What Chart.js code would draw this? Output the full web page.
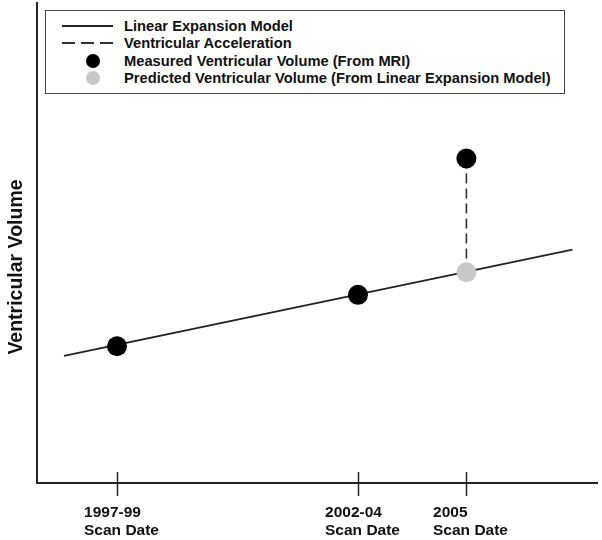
<!DOCTYPE html>
<html>
<head>
<meta charset="utf-8">
<script src="https://cdn.jsdelivr.net/npm/chart.js@4.4.1/dist/chart.umd.min.js"></script>
<style>
    body { margin: 0; background: #fff; }
    #wrap { position: relative; width: 602px; height: 540px; }
    #legend {
        position: absolute; left: 45px; top: 10px; width: 518px; height: 82px;
        border: 1.5px solid #444; background: #fff;
        font: bold 14.7px "Liberation Sans", Arial, sans-serif; color: #111;
    }
    .row { position: absolute; left: 0; width: 100%; height: 18px; }
    .txt { position: absolute; left: 78px; top: 0; line-height: 18px; white-space: nowrap; }
    .solid { position: absolute; left: 16px; top: 8px; width: 51px; height: 2px; background: #222; }
    .dash { position: absolute; left: 16px; top: 8px; width: 51px; height: 2px;
        background: repeating-linear-gradient(to right, #333 0 13px, transparent 13px 19px); }
    .dot { position: absolute; left: 40px; top: 2px; width: 14px; height: 14px; border-radius: 50%; }
</style>
</head>
<body>
<div id="wrap">
    <canvas id="chart" width="602" height="540"></canvas>
    <div id="legend">
        <div class="row" style="top:6px"><div class="solid"></div><div class="txt">Linear Expansion Model</div></div>
        <div class="row" style="top:23px"><div class="dash"></div><div class="txt">Ventricular Acceleration</div></div>
        <div class="row" style="top:41px"><div class="dot" style="background:#000"></div><div class="txt">Measured Ventricular Volume (From MRI)</div></div>
        <div class="row" style="top:58px"><div class="dot" style="background:#c8c8c8"></div><div class="txt">Predicted Ventricular Volume (From Linear Expansion Model)</div></div>
    </div>
</div>
<script>
"use strict";

// scan dates (x) and their tick labels
const scanYears = [1998, 2003, 2005.25];
const scanLabels = [['1997-99', 'Scan Date'], ['2002-04', 'Scan Date'], ['2005', 'Scan Date']];

// ventricular volume, arbitrary units (no y ticks in the figure)
const measuredVolume = [28.5, 39.2, 67.6];
const predictedYear = [2005.25];
const predictedVolume = [43.9];

// linear expansion model, end points of the fitted line
const modelYears = [1996.9, 2007.45];
const modelVolume = [26.5, 48.6];

const yTitle = 'Ventricular Volume';
const FONT = '"Liberation Sans", Arial, sans-serif';

const toPoints = (xs, ys) => xs.map((x, i) => ({x, y: ys[i]}));

const scanAxis = {
    id: 'scanAxis',
    afterDraw(chart) {
        const {ctx, chartArea, scales: {x}} = chart;
        ctx.save();
        ctx.strokeStyle = '#222';
        ctx.lineWidth = 1.5;
        ctx.fillStyle = '#111';
        ctx.font = 'bold 15.5px ' + FONT;
        ctx.textAlign = 'left';
        ctx.textBaseline = 'alphabetic';
        scanYears.forEach((yr, i) => {
            const px = Math.round(x.getPixelForValue(yr)) + 0.5;
            ctx.beginPath();
            ctx.moveTo(px, chartArea.bottom - 11);
            ctx.lineTo(px, chartArea.bottom + 13);
            ctx.stroke();
            const lines = scanLabels[i],
                w = Math.max(...lines.map(t => ctx.measureText(t).width)),
                left = px - w / 2 + 4;
            lines.forEach((t, j) => ctx.fillText(t, left, chartArea.bottom + 33.5 + j * 18.5));
        });

        // y title sits a bit below the middle of the axis
        ctx.translate(17, chartArea.top + (chartArea.bottom - chartArea.top) * 0.55);
        ctx.rotate(-Math.PI / 2);
        ctx.textAlign = 'center';
        ctx.textBaseline = 'middle';
        ctx.font = 'bold 19.5px ' + FONT;
        ctx.fillText(yTitle, 0, 0);
        ctx.restore();
    }
};

const axisBorder = {display: true, color: '#222', width: 2};

new Chart(document.getElementById('chart'), {
    type: 'scatter',
    data: {
        datasets: [
            {
                label: 'Measured Ventricular Volume (From MRI)',
                data: toPoints(scanYears, measuredVolume),
                pointRadius: 10, pointBackgroundColor: '#000', pointBorderWidth: 0,
                order: 0
            },
            {
                label: 'Predicted Ventricular Volume (From Linear Expansion Model)',
                data: toPoints(predictedYear, predictedVolume),
                pointRadius: 10, pointBackgroundColor: '#c8c8c8', pointBorderWidth: 0,
                order: 0
            },
            {
                label: 'Ventricular Acceleration',
                data: toPoints([scanYears[2], predictedYear[0]], [measuredVolume[2], predictedVolume[0]]),
                showLine: true, borderColor: '#333', borderWidth: 1.6, borderDash: [10, 5],
                pointRadius: 0, order: 1
            },
            {
                label: 'Linear Expansion Model',
                data: toPoints(modelYears, modelVolume),
                showLine: true, borderColor: '#222', borderWidth: 1.8,
                pointRadius: 0, order: 2
            }
        ]
    },
    options: {
        responsive: false,
        animation: false,
        layout: {autoPadding: false, padding: {left: 0, top: 3, right: 5, bottom: 0}},
        plugins: {legend: {display: false}, tooltip: {enabled: false}},
        scales: {
            x: {
                type: 'linear', min: 1996.34, max: 2007.96,
                ticks: {display: false}, grid: {display: false}, border: axisBorder,
                afterFit(s) { s.height = 57; }
            },
            y: {
                min: 0, max: 100,
                ticks: {display: false}, grid: {display: false}, border: axisBorder,
                afterFit(s) { s.width = 37; }
            }
        }
    },
    plugins: [scanAxis]
});
</script>
</body>
</html>
